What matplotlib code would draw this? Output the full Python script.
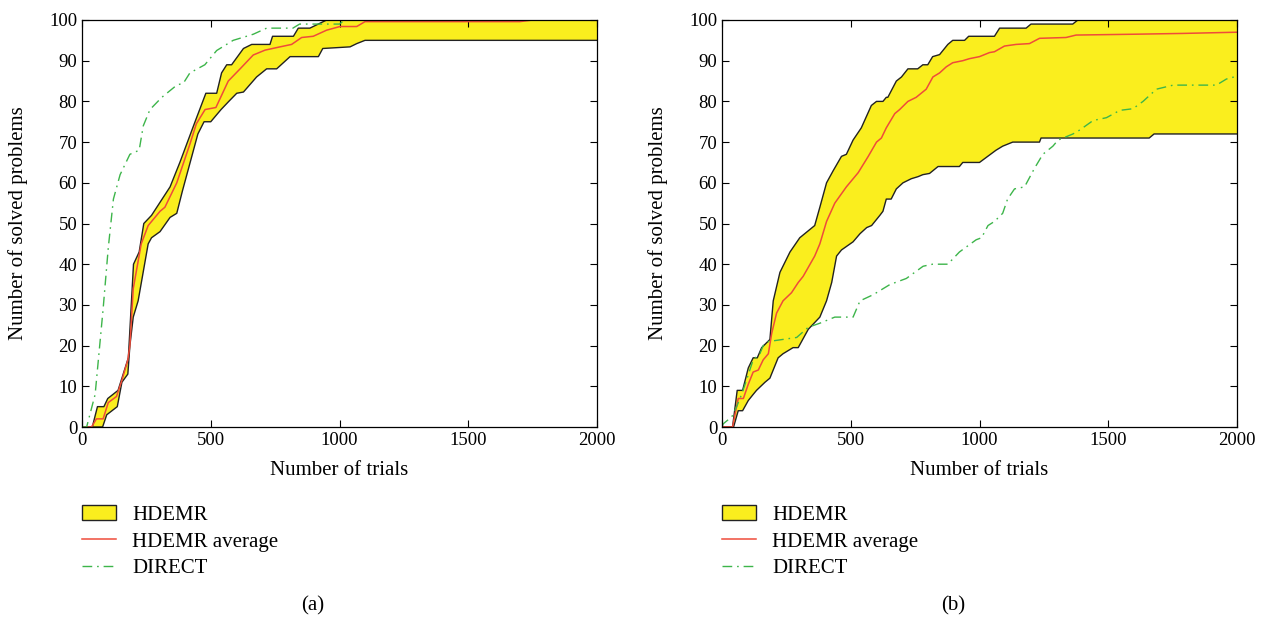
import matplotlib
matplotlib.use('Agg')
import matplotlib.pyplot as plt
import matplotlib as mpl
import numpy as np
from matplotlib.patches import Patch
from matplotlib.lines import Line2D

# (a) HDEMR band (upper / lower bound), average and DIRECT
a_up_x = [0, 40, 60, 85, 100, 140, 180, 200, 222, 240, 270, 342, 380, 439, 481, 523, 542, 562, 581, 627,
          659, 730, 740, 821, 840, 885, 950, 2000]
a_up_y = [0, 0, 5, 5, 7, 9, 17, 40, 43, 50, 52, 59, 65, 75, 82, 82, 87, 89, 89, 93,
          94, 94, 96, 96, 98, 98, 100, 100]
a_lo_x = [0, 80, 96, 137, 155, 178, 186, 199, 218, 257, 270, 303, 342, 368, 390, 420, 450, 474, 500, 540,
          570, 601, 627, 678, 717, 756, 808, 918, 935, 1041, 1067, 1099, 2000]
a_lo_y = [0, 0, 3, 5, 11, 13, 20, 27, 31, 45, 46.5, 48, 51.5, 52.5, 58, 65, 72, 75, 75, 78,
          80, 82, 82.3, 86, 88, 88, 91, 91, 93, 93.4, 94.2, 95, 95]
a_avg_x = [0, 37, 56, 82, 102, 134, 155, 178, 186, 199, 230, 257, 303, 322, 368, 419, 444, 478, 520, 568,
           614, 665, 711, 769, 814, 853, 898, 950, 1002, 1067, 1099, 1700, 1750, 2000]
a_avg_y = [0, 0, 2, 2, 6, 7.5, 11.5, 16.5, 20, 34, 45, 49.5, 53, 54, 60, 69.5, 74.5, 78, 78.5, 85,
           88, 91.4, 92.6, 93.4, 94, 95.7, 96, 97.5, 98.4, 98.4, 99.6, 99.6, 100, 100]
a_dir_x = [0, 18, 51, 82, 102, 122, 148, 186, 222, 238, 264, 310, 368, 394, 419, 477, 523, 587, 665, 717,
           819, 845, 1000, 1020, 2000]
a_dir_y = [0, 0, 8, 29, 44, 56, 62, 67, 68, 74, 78, 81, 84, 84.5, 87, 89, 92.5, 95, 96.5, 98,
           98, 99, 99, 100, 100]

# (b)
b_up_x = [0, 41, 59, 80, 102, 121, 137, 154, 186, 199, 225, 264, 302, 360, 380, 406, 432, 464, 483, 509,
          541, 580, 600, 625, 638, 644, 677, 697, 722, 760, 780, 799, 818, 845, 877, 896, 942, 958, 1058,
          1078, 1181, 1200, 1362, 1382, 2000]
b_up_y = [0, 0, 9, 9, 14.5, 17, 17, 19.5, 21.5, 31, 38, 43, 46.5, 49.5, 54, 60, 63, 66.5, 67, 70.5,
          73.5, 79, 80, 80, 81, 81, 85, 86, 88, 88, 89, 89, 91, 91.5, 94, 95, 95, 96, 96,
          98, 98, 99, 99, 100, 100]
b_lo_x = [0, 45, 63, 80, 102, 121, 134, 167, 186, 218, 237, 276, 296, 335, 380, 406, 426, 445, 464, 509,
          536, 562, 581, 613, 625, 638, 657, 677, 703, 735, 761, 780, 806, 839, 922, 935, 1000, 1064,
          1090, 1129, 1233, 1239, 1659, 1678, 2000]
b_lo_y = [0, 0, 4, 4, 6.5, 8, 9, 11, 12, 17, 18, 19.5, 19.5, 24, 27, 31, 35.5, 42, 43.5, 45.5,
          47.5, 49, 49.5, 52, 53, 56, 56, 58.5, 60, 61, 61.5, 62, 62.3, 64, 64, 65, 65, 68,
          69, 70, 70, 71, 71, 72, 72]
b_avg_x = [0, 41, 63, 83, 102, 121, 141, 160, 180, 193, 212, 237, 270, 296, 315, 360, 380, 406, 438, 483,
           529, 568, 600, 619, 638, 671, 690, 722, 754, 793, 819, 845, 871, 896, 935, 961, 1000, 1039,
           1058, 1097, 1142, 1194, 1233, 1336, 1375, 1595, 1789, 2000]
b_avg_y = [0, 0, 7, 7, 10.5, 13.5, 14, 16.5, 18, 23, 28, 31, 33, 35.5, 37, 42, 45, 50.5, 55, 59,
           62.5, 66.5, 70, 71, 73.5, 77, 78, 80, 81, 83, 86, 87, 88.5, 89.5, 90, 90.5, 91, 92,
           92.2, 93.6, 94, 94.2, 95.5, 95.7, 96.3, 96.5, 96.7, 97]
b_dir_x = [0, 5, 38, 57, 76, 95, 121, 147, 160, 180, 290, 335, 380, 438, 509, 536, 587, 652, 716, 781,
           818, 877, 922, 987, 1008, 1033, 1058, 1090, 1109, 1136, 1175, 1213, 1246, 1285, 1305, 1363,
           1390, 1441, 1493, 1545, 1596, 1635, 1687, 1752, 1920, 1959, 2000]
b_dir_y = [0, 0.8, 2.5, 5, 8, 11.5, 16.5, 18, 20, 21, 22, 24.5, 25.5, 27, 27, 31, 32.5, 35, 36.5, 39.5,
           40, 40, 43, 46, 46.5, 49.5, 50.5, 52.5, 56, 58.5, 59, 63.5, 67, 69, 70.5, 72,
           73, 75.3, 76, 77.8, 78.2, 80, 83, 84, 84, 85.5, 86.2]

YELLOW = '#FAEE1E'
RED = '#EF4B3A'
GREEN = '#3DB54A'
DASHDOT = (0, (7, 3.5, 1.2, 3.5))

mpl.rcParams.update({
    'font.family': ['Liberation Serif', 'DejaVu Serif'],
    'font.size': 13.5,
    'axes.linewidth': 0.9,
    'xtick.direction': 'in',
    'ytick.direction': 'in',
    'xtick.top': True,
    'ytick.right': True,
    'xtick.major.size': 5,
    'ytick.major.size': 5,
})


def draw_panel(ax, up_x, up_y, lo_x, lo_y, avg_x, avg_y, dir_x, dir_y):
    poly_x = np.concatenate([up_x, lo_x[::-1]])
    poly_y = np.concatenate([up_y, lo_y[::-1]])
    ax.fill(poly_x, poly_y, facecolor=YELLOW, edgecolor='none')
    ax.plot(up_x, up_y, color='#222222', lw=1.0)
    ax.plot(lo_x, lo_y, color='#222222', lw=1.0)
    ax.plot(avg_x, avg_y, color=RED, lw=1.1)
    ax.plot(dir_x, dir_y, color=GREEN, lw=1.0, linestyle=DASHDOT)

    ax.set_xlim(0, 2000)
    ax.set_ylim(0, 100)
    ax.set_xticks([0, 500, 1000, 1500, 2000])
    ax.set_yticks(range(0, 101, 10))
    ax.set_xlabel('Number of trials', fontsize=15, labelpad=9)
    ax.set_ylabel('Number of solved problems', fontsize=15, labelpad=15)

    handles = [Patch(facecolor=YELLOW, edgecolor='#222222', linewidth=1.0),
               Line2D([], [], color=RED, lw=1.1),
               Line2D([], [], color=GREEN, lw=1.0, linestyle=DASHDOT)]
    ax.legend(handles, ['HDEMR', 'HDEMR average', 'DIRECT'],
              loc='upper left', bbox_to_anchor=(0, -0.192), frameon=False,
              fontsize=15, borderpad=0, borderaxespad=0,
              handlelength=1.65, handletextpad=0.75, labelspacing=0.35)


fig = plt.figure(figsize=(12.69, 6.2), dpi=100)
ax1 = fig.add_axes([82 / 1269, 193 / 620, 515 / 1269, 407 / 620])
ax2 = fig.add_axes([722 / 1269, 193 / 620, 515 / 1269, 407 / 620])

draw_panel(ax1, a_up_x, a_up_y, a_lo_x, a_lo_y, a_avg_x, a_avg_y, a_dir_x, a_dir_y)
draw_panel(ax2, b_up_x, b_up_y, b_lo_x, b_lo_y, b_avg_x, b_avg_y, b_dir_x, b_dir_y)

fig.text(313 / 1269, 14 / 620, '(a)', ha='center', va='center', fontsize=15)
fig.text(953 / 1269, 14 / 620, '(b)', ha='center', va='center', fontsize=15)

fig.savefig('out.png', dpi=100)
